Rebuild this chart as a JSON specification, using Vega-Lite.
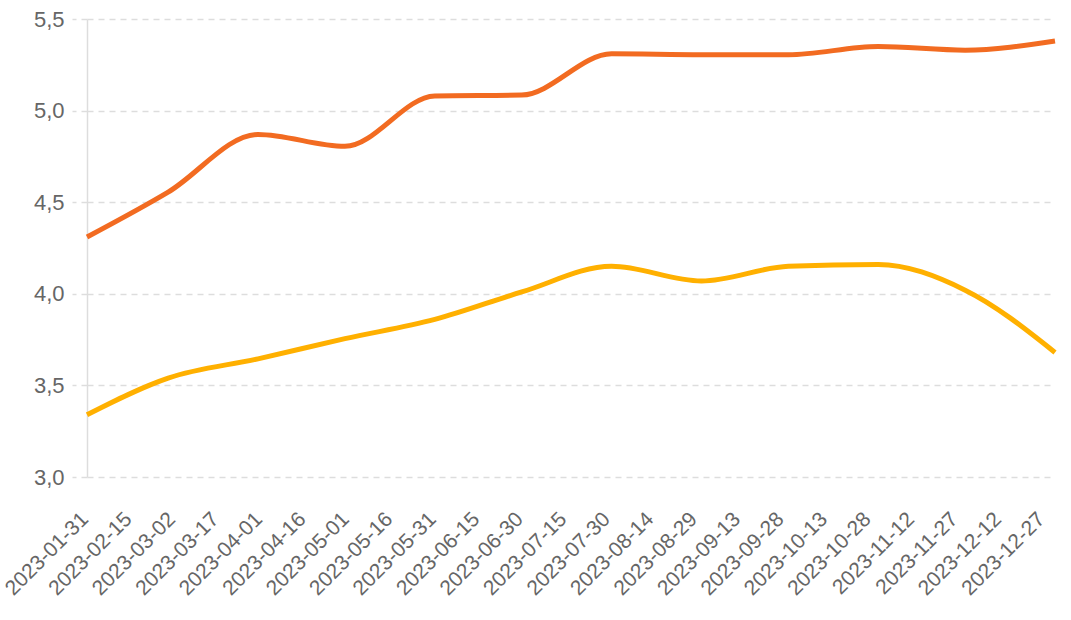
{
  "$schema": "https://vega.github.io/schema/vega-lite/v6.json",
  "width": 968,
  "height": 458,
  "autosize": {"type": "none"},
  "padding": {"left": 87, "top": 19, "right": 16, "bottom": 143},
  "background": "white",
  "config": {"view": {"stroke": null}, "font": "Liberation Sans", "axis": {"labelFont": "Liberation Sans"}},
  "data": {
    "values": [
      {"date": "2023-01-31", "series": "A", "value": 4.31},
      {"date": "2023-02-28", "series": "A", "value": 4.555},
      {"date": "2023-03-31", "series": "A", "value": 4.87},
      {"date": "2023-04-30", "series": "A", "value": 4.805},
      {"date": "2023-05-31", "series": "A", "value": 5.08},
      {"date": "2023-06-30", "series": "A", "value": 5.085},
      {"date": "2023-07-31", "series": "A", "value": 5.31},
      {"date": "2023-08-31", "series": "A", "value": 5.305},
      {"date": "2023-09-30", "series": "A", "value": 5.305},
      {"date": "2023-10-31", "series": "A", "value": 5.35},
      {"date": "2023-11-30", "series": "A", "value": 5.33},
      {"date": "2023-12-31", "series": "A", "value": 5.38},
      {"date": "2023-01-31", "series": "B", "value": 3.34},
      {"date": "2023-02-28", "series": "B", "value": 3.54},
      {"date": "2023-03-31", "series": "B", "value": 3.645},
      {"date": "2023-04-30", "series": "B", "value": 3.755},
      {"date": "2023-05-31", "series": "B", "value": 3.86},
      {"date": "2023-06-30", "series": "B", "value": 4.01},
      {"date": "2023-07-31", "series": "B", "value": 4.15},
      {"date": "2023-08-31", "series": "B", "value": 4.07},
      {"date": "2023-09-30", "series": "B", "value": 4.15},
      {"date": "2023-10-31", "series": "B", "value": 4.16},
      {"date": "2023-11-30", "series": "B", "value": 4.02},
      {"date": "2023-12-31", "series": "B", "value": 3.68}
    ]
  },
  "mark": {"type": "line", "interpolate": "monotone", "strokeWidth": 5, "strokeCap": "butt"},
  "encoding": {
    "x": {
      "field": "date",
      "type": "temporal",
      "scale": {"type": "utc", "nice": false},
      "axis": {
        "title": null,
        "format": "%Y-%m-%d",
        "labelAngle": -45,
        "labelFont": "Liberation Sans",
        "labelFontSize": 21,
        "labelColor": "#666666",
        "labelPadding": 31,
        "labelOffset": -10,
        "ticks": false,
        "domain": false,
        "grid": false,
        "labelOverlap": false,
        "labelFlush": false,
        "values": [
          {"year": 2023, "month": 1, "date": 31, "utc": true},
          {"year": 2023, "month": 2, "date": 15, "utc": true},
          {"year": 2023, "month": 3, "date": 2, "utc": true},
          {"year": 2023, "month": 3, "date": 17, "utc": true},
          {"year": 2023, "month": 4, "date": 1, "utc": true},
          {"year": 2023, "month": 4, "date": 16, "utc": true},
          {"year": 2023, "month": 5, "date": 1, "utc": true},
          {"year": 2023, "month": 5, "date": 16, "utc": true},
          {"year": 2023, "month": 5, "date": 31, "utc": true},
          {"year": 2023, "month": 6, "date": 15, "utc": true},
          {"year": 2023, "month": 6, "date": 30, "utc": true},
          {"year": 2023, "month": 7, "date": 15, "utc": true},
          {"year": 2023, "month": 7, "date": 30, "utc": true},
          {"year": 2023, "month": 8, "date": 14, "utc": true},
          {"year": 2023, "month": 8, "date": 29, "utc": true},
          {"year": 2023, "month": 9, "date": 13, "utc": true},
          {"year": 2023, "month": 9, "date": 28, "utc": true},
          {"year": 2023, "month": 10, "date": 13, "utc": true},
          {"year": 2023, "month": 10, "date": 28, "utc": true},
          {"year": 2023, "month": 11, "date": 12, "utc": true},
          {"year": 2023, "month": 11, "date": 27, "utc": true},
          {"year": 2023, "month": 12, "date": 12, "utc": true},
          {"year": 2023, "month": 12, "date": 27, "utc": true}
        ]
      }
    },
    "y": {
      "field": "value",
      "type": "quantitative",
      "scale": {"domain": [3, 5.5], "nice": false, "zero": false},
      "axis": {
        "title": null,
        "values": [3, 3.5, 4, 4.5, 5, 5.5],
        "labelExpr": "replace(format(datum.value, '.1f'), '.', ',')",
        "labelFont": "Liberation Sans",
        "labelFontSize": 22,
        "labelColor": "#666666",
        "labelPadding": 8,
        "ticks": true,
        "tickSize": 15,
        "tickColor": "#dddddd",
        "tickWidth": 1.5,
        "tickDash": [6, 5],
        "domain": true,
        "domainColor": "#dddddd",
        "domainWidth": 1.5,
        "grid": true,
        "gridColor": "#dddddd",
        "gridDash": [6, 5],
        "gridWidth": 1.5
      }
    },
    "color": {
      "field": "series",
      "type": "nominal",
      "scale": {"domain": ["A", "B"], "range": ["#F26B21", "#FFB000"]},
      "legend": null
    }
  }
}
